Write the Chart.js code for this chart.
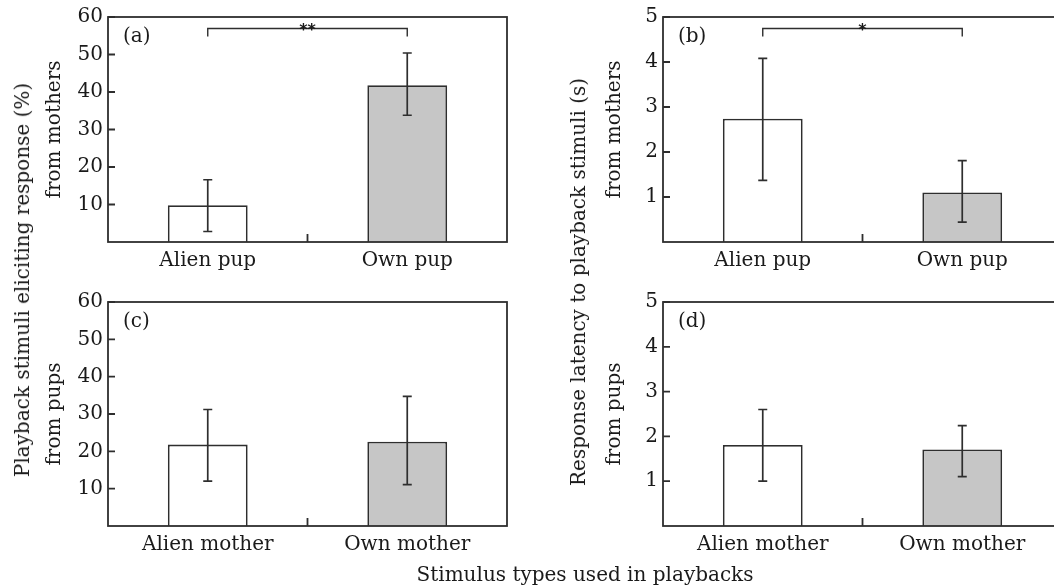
<!DOCTYPE html>
<html>
<head>
<meta charset="utf-8">
<script src="https://cdn.jsdelivr.net/npm/chart.js@4.4.0/dist/chart.umd.min.js"></script>
<style>
  html, body { margin: 0; padding: 0; background: #fff; overflow: hidden; width: 1054px; height: 588px; }
  canvas { position: absolute; }
  .lbl { position: absolute; font-family: 'DejaVu Serif', serif; font-size: 20px; line-height: 20px; color: #1a1a1a; white-space: nowrap; }
  .rot { transform: translate(-50%, -50%) rotate(-90deg); }
</style>
</head>
<body>
<canvas id="pa" width="520" height="290" style="left:0;top:0"></canvas>
<canvas id="pb" width="540" height="290" style="left:540px;top:0"></canvas>
<canvas id="pc" width="520" height="290" style="left:0;top:285px"></canvas>
<canvas id="pd" width="540" height="290" style="left:540px;top:285px"></canvas>
<div class="lbl rot" style="left:22px;top:280px">Playback stimuli eliciting response (%)</div>
<div class="lbl rot" style="left:578px;top:282px">Response latency to playback stimuli (s)</div>
<div class="lbl" style="left:585px;top:564px;transform:translateX(-50%)">Stimulus types used in playbacks</div>
<script>
// categories
const catsPup = ['Alien pup', 'Own pup'];
const catsMother = ['Alien mother', 'Own mother'];

// y tick labels
const pctTicks = [10, 20, 30, 40, 50, 60];
const secTicks = [1, 2, 3, 4, 5];

// (a) response from mothers (%)
const respMothers = [9.8, 41.8];
const respMothersLo = [2.8, 33.8];
const respMothersHi = [16.6, 50.4];

// (b) latency from mothers (s)
const latMothers = [2.74, 1.10];
const latMothersLo = [1.37, 0.44];
const latMothersHi = [4.08, 1.81];

// (c) response from pups (%)
const respPups = [21.8, 22.6];
const respPupsLo = [12.0, 11.1];
const respPupsHi = [31.2, 34.7];

// (d) latency from pups (s)
const latPups = [1.81, 1.71];
const latPupsLo = [1.0, 1.10];
const latPupsHi = [2.6, 2.24];

const barColors = ['#ffffff', '#c6c6c6'];
const INK = '#1a1a1a';
const LINE = '#2e2e2e';
const FONT = 'DejaVu Serif';

// error bars, frame, inward ticks, panel letter, significance bracket
const panelExtras = {
  id: 'panelExtras',
  afterDatasetsDraw(chart, args, opts) {
    const { ctx, chartArea: a, scales: { x, y } } = chart;
    ctx.save();
    ctx.strokeStyle = LINE;
    ctx.lineWidth = 1.7;

    opts.lo.forEach((lo, i) => {
      const px = x.getPixelForValue(i);
      const y1 = y.getPixelForValue(lo);
      const y2 = y.getPixelForValue(opts.hi[i]);
      ctx.beginPath();
      ctx.moveTo(px, y1); ctx.lineTo(px, y2);
      ctx.moveTo(px - 4.5, y1); ctx.lineTo(px + 4.5, y1);
      ctx.moveTo(px - 4.5, y2); ctx.lineTo(px + 4.5, y2);
      ctx.stroke();
    });

    ctx.lineWidth = 1.8;
    ctx.strokeRect(a.left, a.top, a.right - a.left, a.bottom - a.top);

    ctx.beginPath();
    y.ticks.forEach(t => {
      const py = y.getPixelForValue(t.value);
      ctx.moveTo(a.left, py); ctx.lineTo(a.left + 7, py);
    });
    const mid = x.getPixelForValue(0.5);
    ctx.moveTo(mid, a.bottom); ctx.lineTo(mid, a.bottom - 8);
    ctx.stroke();

    ctx.fillStyle = INK;
    ctx.font = '20px "' + FONT + '"';
    ctx.textBaseline = 'middle';
    ctx.fillText(opts.letter, a.left + 15, a.top + 20);

    if (opts.sig) {
      const x1 = x.getPixelForValue(0), x2 = x.getPixelForValue(1);
      const by = a.top + 11.5;
      ctx.lineWidth = 1.4;
      ctx.beginPath();
      ctx.moveTo(x1, by + 8); ctx.lineTo(x1, by); ctx.lineTo(x2, by); ctx.lineTo(x2, by + 8);
      ctx.stroke();
      ctx.textAlign = 'center';
      ctx.textBaseline = 'alphabetic';
      ctx.font = 'bold 16px "DejaVu Sans"';
      ctx.fillText(opts.sig, (x1 + x2) / 2, by + 6.5);
    }
    ctx.restore();
  }
};

function makePanel(id, cats, vals, lo, hi, yTicks, yMax, yWidth, padRight, xHeight, title, titlePad, letter, sig) {
  return new Chart(document.getElementById(id), {
    type: 'bar',
    data: {
      labels: cats,
      datasets: [{
        data: vals,
        backgroundColor: barColors,
        borderColor: LINE,
        borderWidth: 1.8,
        barPercentage: 0.4,
        categoryPercentage: 1
      }]
    },
    options: {
      responsive: false,
      animation: false,
      layout: { padding: { top: 16, right: padRight, bottom: 0, left: 0 } },
      plugins: {
        legend: { display: false },
        tooltip: { enabled: false },
        panelExtras: { lo, hi, letter, sig }
      },
      scales: {
        x: {
          offset: true,
          afterFit: s => { s.height = xHeight; },
          grid: { display: false, drawTicks: false },
          border: { display: false },
          ticks: { padding: 7, color: INK, font: { family: FONT, size: 20 } }
        },
        y: {
          min: 0,
          max: yMax,
          afterBuildTicks: s => { s.ticks = yTicks.map(v => ({ value: v })); },
          afterFit: s => { s.width = yWidth; },
          grid: { display: false, drawTicks: false },
          border: { display: false },
          ticks: { padding: 5, autoSkip: false, color: INK, font: { family: FONT, size: 20 } },
          title: {
            display: true, text: title, color: INK,
            font: { family: FONT, size: 20 },
            padding: { top: titlePad, bottom: 0 }
          }
        }
      }
    },
    plugins: [panelExtras]
  });
}

makePanel('pa', catsPup, respMothers, respMothersLo, respMothersHi, pctTicks, 60, 108, 13, 48, 'from mothers', 43, '(a)', '**');
makePanel('pb', catsPup, latMothers, latMothersLo, latMothersHi, secTicks, 5, 123, 18, 48, 'from mothers', 63, '(b)', '*');
makePanel('pc', catsMother, respPups, respPupsLo, respPupsHi, pctTicks, 60, 108, 13, 49, 'from pups', 43, '(c)', null);
makePanel('pd', catsMother, latPups, latPupsLo, latPupsHi, secTicks, 5, 123, 18, 49, 'from pups', 63, '(d)', null);
</script>
</body>
</html>
